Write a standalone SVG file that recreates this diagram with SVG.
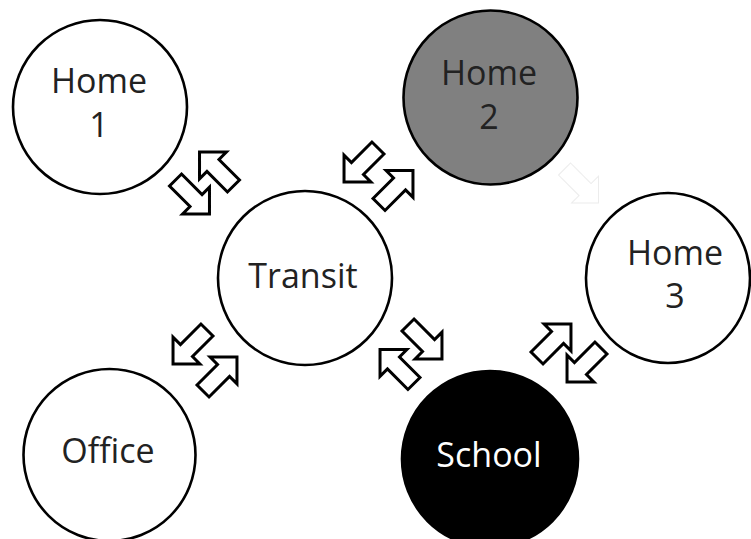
<svg xmlns="http://www.w3.org/2000/svg" width="751" height="539" viewBox="0 0 751 539">
<style>
.node{stroke:#000;stroke-width:2.6}
.lbl{font-family:"Open Sans","DejaVu Sans",sans-serif;font-size:34px;fill:#222;text-anchor:middle}
.arr{fill:#fff;stroke:#000;stroke-width:3;stroke-linejoin:miter}
.ghost{fill:none;stroke:#ececec;stroke-width:1}
</style>
<defs>
<path id="blk" d="M-24,-8.5 L5,-8.5 L5,-19 L24,0 L5,19 L5,8.5 L-24,8.5 Z"/>
</defs>
<rect width="751" height="539" fill="#fff"/>
<g id="connectors">
<use href="#blk" class="arr" transform="translate(192.5,197) rotate(45)"/>
<use href="#blk" class="arr" transform="translate(216.5,169) rotate(225)"/>
<use href="#blk" class="arr" transform="translate(361,165) rotate(135)"/>
<use href="#blk" class="arr" transform="translate(396,187.5) rotate(-45)"/>
<use href="#blk" class="arr" transform="translate(190,347) rotate(135)"/>
<use href="#blk" class="arr" transform="translate(220,374) rotate(-45)"/>
<use href="#blk" class="arr" transform="translate(425,342) rotate(45)"/>
<use href="#blk" class="arr" transform="translate(397,366.5) rotate(225)"/>
<use href="#blk" class="arr" transform="translate(554,341) rotate(-45)"/>
<use href="#blk" class="arr" transform="translate(584,365) rotate(135)"/>
<use href="#blk" class="ghost" transform="translate(581.5,186) rotate(45)"/>
</g>
<g id="home1">
<circle class="node" cx="100" cy="107" r="87" fill="#fff"/>
<text class="lbl" x="99" y="93">Home</text>
<text class="lbl" x="99" y="137">1</text>
</g>
<g id="home2">
<circle class="node" cx="490.5" cy="97.5" r="87" fill="#808080"/>
<text class="lbl" x="489" y="85">Home</text>
<text class="lbl" x="489" y="129">2</text>
</g>
<g id="transit">
<circle class="node" cx="305" cy="278" r="87" fill="#fff"/>
<text class="lbl" x="303" y="288">Transit</text>
</g>
<g id="home3">
<ellipse class="node" cx="668" cy="278" rx="82" ry="85" fill="#fff"/>
<text class="lbl" x="675" y="265">Home</text>
<text class="lbl" x="675" y="308">3</text>
</g>
<g id="office">
<circle class="node" cx="109.5" cy="455" r="86" fill="#fff"/>
<text class="lbl" x="108" y="463">Office</text>
</g>
<g id="school">
<circle class="node" cx="490" cy="459" r="88" fill="#000"/>
<text class="lbl" x="489" y="467" style="fill:#fff">School</text>
</g>
</svg>
